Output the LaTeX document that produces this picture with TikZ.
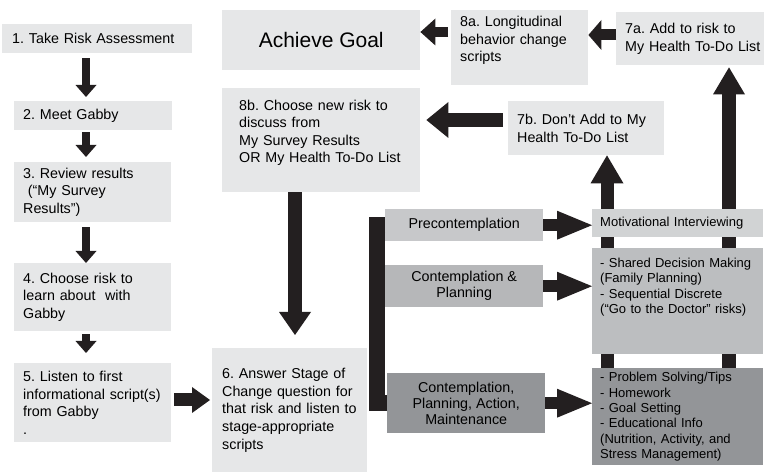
\documentclass[tikz,border=0pt]{standalone}
\usepackage{fontspec}
\setmainfont{Liberation Sans}
\usepackage{tikz}
\usetikzlibrary{
    positioning,
    arrows.meta
}
\definecolor{PanelGray}{RGB}{230,231,232}
\definecolor{StageLight}{RGB}{199,200,202}
\definecolor{StageMid}{RGB}{182,183,185}
\definecolor{StageDark}{RGB}{147,149,152}
\definecolor{ScriptLight}{RGB}{209,211,212}
\definecolor{ScriptMid}{RGB}{188,190,192}
\definecolor{ArrowBlack}{RGB}{35,31,32}
\pgfdeclarelayer{back}
\pgfsetlayers{back,main}
\frenchspacing

\begin{document}
\begin{tikzpicture}[
    x=1pt, y=-1pt,
    stepbox/.style={rectangle, fill=PanelGray, anchor=north west, inner xsep=9pt, inner ysep=0pt, align=left, font=\fontsize{14.3}{17.6}\selectfont},
    goalbox/.style={rectangle, fill=PanelGray, anchor=north west, inner sep=0pt, align=center, font=\fontsize{21}{25}\selectfont},
    stagebox/.style={rectangle, anchor=north west, inner sep=0pt, minimum width=158pt, align=center, font=\fontsize{14.3}{16}\selectfont},
    scriptbox/.style={rectangle, anchor=north west, inner xsep=8pt, inner ysep=0pt, text width=155pt, align=left, font=\fontsize{13}{15.3}\selectfont},
    flow/.style n args={3}{draw=ArrowBlack, line width=#1, -{Triangle[width=#2, length=#3, line width=0pt]}},
    stem/.style={draw=ArrowBlack, line width=16pt, line join=miter}
]
\useasboundingbox (0,0) rectangle (764,473);

% left column
\node[stepbox, inner xsep=10pt, text width=170pt, minimum height=29pt] (assess) at (2,24) {1. Take Risk Assessment};
\node[stepbox, text width=140pt, minimum height=29pt] (meet) at (14,101) {2. Meet Gabby};
\node[stepbox, text width=139pt, minimum height=60pt] (review) at (14,162) {3. Review results\\\ (“My Survey\\Results”)};
\node[stepbox, text width=139pt, minimum height=68pt] (choose) at (14,263) {4. Choose risk to\\learn about\ \ with\\Gabby};
\node[stepbox, text width=139pt, minimum height=79pt] (listen) at (14,363) {5. Listen to first\\\mbox{informational script(s)}\\from Gabby\\.};
\node[stepbox, inner xsep=10pt, text width=135pt, minimum height=124pt] (answer) at (212,348) {6. Answer Stage of\\Change question for\\\mbox{that risk and listen to}\\stage-appropriate\\scripts};

% top row
\node[goalbox, minimum width=198pt, minimum height=60pt] (goal) at (222,10) {Achieve Goal};
\node[stepbox, text width=119pt, minimum height=75pt] (longi) at (451,10) {8a. Longitudinal\\behavior change\\scripts\\\mbox{}};
\node[stepbox, text width=130pt, minimum height=53pt] (addlist) at (616,12) {7a. Add to risk to\\\mbox{My Health To-Do List}};
\node[stepbox, inner xsep=17pt, text width=164pt, minimum height=104pt] (newrisk) at (222,88) {8b. Choose new risk to\\discuss from\\My Survey Results\\\mbox{OR My Health To-Do List}\\\mbox{}};
\node[stepbox, text width=138pt, minimum height=54pt] (dontadd) at (508,101) {7b. Don’t Add to My\\Health To-Do List};

% stages
\node[stagebox, fill=StageLight, minimum height=32pt] (pre) at (385,209) {Precontemplation};
\node[stagebox, fill=StageMid, minimum height=42pt] (contemp) at (385,265) {Contemplation \&\\Planning};
\node[stagebox, fill=StageDark, minimum height=60pt] (action) at (387,373) {Contemplation,\\Planning, Action,\\Maintenance};

% scripts per stage
\node[scriptbox, fill=ScriptLight, minimum height=28pt] (motiv) at (592,209) {Motivational Interviewing};
\node[scriptbox, fill=ScriptMid, minimum height=106pt] (shared) at (592,248) {- Shared Decision Making\\(Family Planning)\\- Sequential Discrete\\(“Go to the Doctor” risks)\\\mbox{}\\\mbox{}};
\node[scriptbox, fill=StageDark, minimum height=97pt] (tips) at (592,368) {- Problem Solving/Tips\\- Homework\\- Goal Setting\\- Educational Info\\(Nutrition, Activity, and\\Stress Management)};

\coordinate (col) at (86,0);
\coordinate (row5) at (0,400);
\coordinate (mid) at (295,0);
\coordinate (row7b) at (0,120);
\coordinate (row8a) at (0,32);
\coordinate (row7a) at (0,35);
\coordinate (upl) at (607,0);
\coordinate (upr) at (729,0);

\draw[flow={8pt}{21pt}{12pt}, shorten <=5pt, shorten >=4pt] (assess.south -| col) -- (meet.north -| col);
\draw[flow={8pt}{21pt}{12pt}, shorten <=2pt, shorten >=5pt] (meet.south -| col) -- (review.north -| col);
\draw[flow={8pt}{21pt}{12pt}, shorten <=5pt] (review.south -| col) -- (choose.north -| col);
\draw[flow={8pt}{21pt}{12pt}, shorten <=3pt, shorten >=10pt] (choose.south -| col) -- (listen.north -| col);
\draw[flow={13pt}{26pt}{18pt}, shorten <=3pt, shorten >=2pt] (listen.east |- row5) -- (answer.west |- row5);
\draw[flow={14pt}{32pt}{23pt}, shorten >=13pt] (newrisk.south -| mid) -- (answer.north -| mid);
\draw[flow={14pt}{36pt}{22pt}, shorten <=5pt, shorten >=6pt] (dontadd.west |- row7b) -- (newrisk.east |- row7b);
\draw[flow={10pt}{27pt}{15pt}, shorten <=3pt] (longi.west |- row8a) -- (goal.east |- row8a);
\draw[flow={11pt}{30pt}{13pt}] (addlist.west |- row7a) -- (longi.east |- row7a);

\draw[stem] (pre.west) -- ++(-8,0) |- (action.west);
\draw[flow={12pt}{29pt}{35pt}] (pre.east) -- (pre.east -| motiv.west);
\draw[flow={12pt}{29pt}{35pt}] (contemp.east) -- (contemp.east -| shared.west);
\draw[flow={12pt}{29pt}{35pt}] (action.east) -- (action.east -| tips.west);

\begin{pgfonlayer}{back}
\draw[flow={13pt}{33pt}{28pt}] (tips.center -| upl) -- (dontadd.south -| upl);
\draw[flow={14pt}{32pt}{27pt}, shorten >=2pt] (tips.center -| upr) -- (addlist.south -| upr);
\end{pgfonlayer}
\end{tikzpicture}
\end{document}
